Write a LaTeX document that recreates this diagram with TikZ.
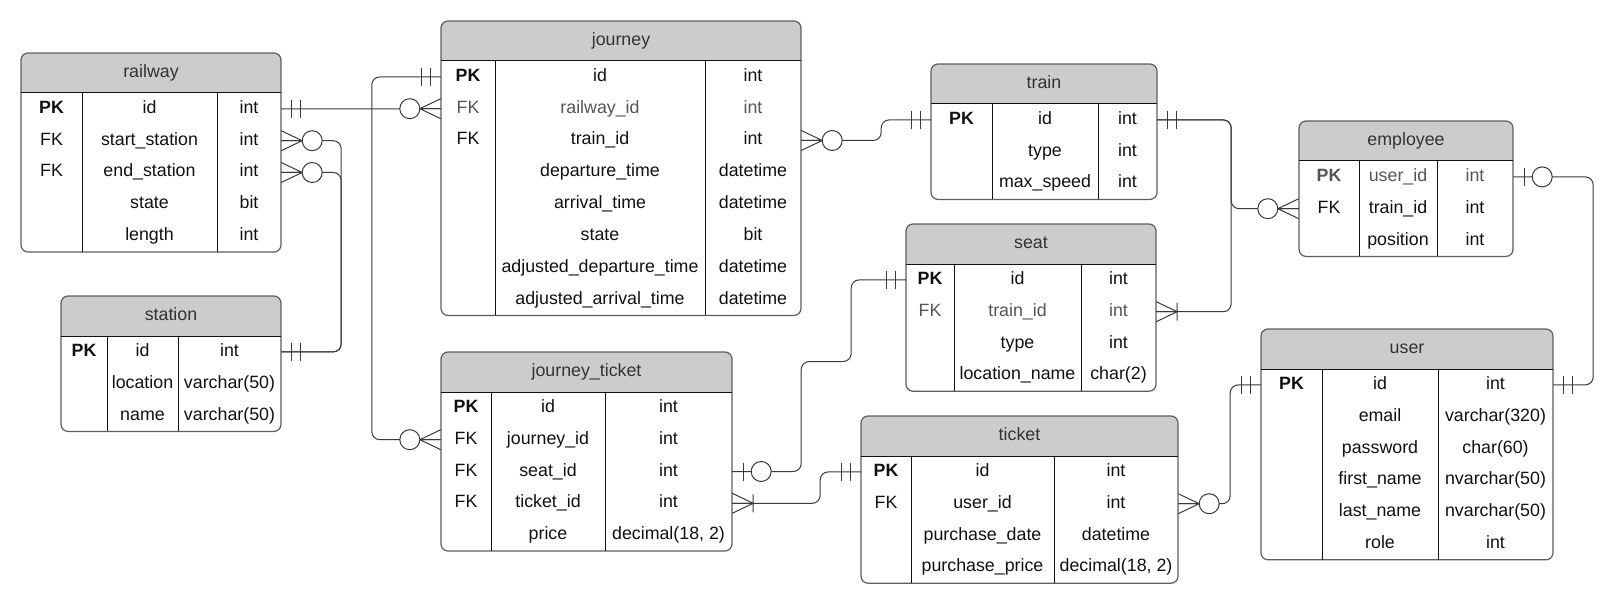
\documentclass[tikz,border=0pt]{standalone}
\usepackage{fontspec}
\setmainfont{Liberation Sans}
\usetikzlibrary{calc}

\definecolor{hdr}{HTML}{CCCCCC}
\definecolor{frm}{HTML}{5E5E5E}
\definecolor{ink}{HTML}{111111}
\definecolor{dim}{HTML}{555555}
\definecolor{lnk}{HTML}{3A3A3A}

\tikzset{
  ertitle/.style={inner sep=0pt, text=black!80, text height=12.8pt, text depth=3.8pt},
  errow/.style={inner sep=0pt, minimum height=31.8pt},
  ercell/.style={inner sep=0pt, text height=12.8pt, text depth=3.8pt},
  erlink/.style={draw=lnk, line width=1pt, rounded corners=8pt},
  ersym/.style={draw=lnk, line width=1pt},
  one/.pic={\draw[ersym] (10,-9) -- (10,9) (19,-9) -- (19,9);},
  zone/.pic={\draw[ersym] (11,-9) -- (11,9);
    \draw[ersym, fill=white] (29,0) circle (10pt);},
  zmany/.pic={\draw[ersym] (0,-10) -- (21,0) -- (0,10) (0,0) -- (21,0);
    \draw[ersym, fill=white] (31,0) circle (10pt);},
  omany/.pic={\draw[ersym] (0,-10) -- (21,0) -- (0,10) (0,0) -- (21,0) (21,-9) -- (21,9);},
}

% #1 name, #2 title, #3-#6 column edges, #7 top, #8 rows, #9 fields
\newcommand{\ertable}[9]{%
  \pgfmathsetmacro{\erbot}{#7+40+#8*31.8}
  \begin{scope}
    \clip[rounded corners=7pt] (#3,#7) rectangle (#6,\erbot);
    \fill[white] (#3,#7) rectangle (#6,\erbot);
    \fill[hdr] (#3,#7) rectangle (#6,#7+40);
  \end{scope}
  \draw[frm, line width=1.2pt, rounded corners=7pt] (#3,#7) rectangle (#6,\erbot);
  \draw[ink, line width=1pt] (#3,#7+40) -- (#6,#7+40)
    (#4,#7+40) -- (#4,\erbot) (#5,#7+40) -- (#5,\erbot);
  \node[ertitle] (#1) at ({(#3+#6)/2},#7+20) {#2};
  \foreach \key/\fld/\typ/\tone [count=\n] in {#9} {
    \pgfmathsetmacro{\rowy}{#7+40+(\n-0.5)*31.8}
    \node[errow, minimum width={(#6-#3)*1pt}] (#1-\n) at ({(#3+#6)/2},\rowy) {};
    \node[ercell, text=\tone] (#1-\n-k) at ({(#3+#4)/2},\rowy) {\key};
    \node[ercell, text=\tone] (#1-\n-f) at ({(#4+#5)/2},\rowy) {\fld};
    \node[ercell, text=\tone] (#1-\n-t) at ({(#5+#6)/2},\rowy) {\typ};
  }
}

\begin{document}
\begin{tikzpicture}[x=1pt, y=-1pt, line join=round,
    font=\fontsize{17.8pt}{21pt}\selectfont]
  \useasboundingbox (0,0) rectangle (1613,604);

  % tables
  \ertable{railway}{railway}{21}{82}{217}{281}{53}{5}{%
    \textbf{PK}/id/int/ink, FK/start\_station/int/ink, FK/end\_station/int/ink,
    /state/bit/ink, /length/int/ink}
  \ertable{station}{station}{61}{107}{178}{281}{296}{3}{%
    \textbf{PK}/id/int/ink, /location/varchar(50)/ink, /name/varchar(50)/ink}
  \ertable{journey}{journey}{441}{495}{705}{801}{21}{8}{%
    \textbf{PK}/id/int/ink, FK/railway\_id/int/dim, FK/train\_id/int/ink,
    /departure\_time/datetime/ink, /arrival\_time/datetime/ink, /state/bit/ink,
    /adjusted\_departure\_time/datetime/ink, /adjusted\_arrival\_time/datetime/ink}
  \ertable{jticket}{journey\_ticket}{441}{491}{605}{732}{352}{5}{%
    \textbf{PK}/id/int/ink, FK/journey\_id/int/ink, FK/seat\_id/int/ink,
    FK/ticket\_id/int/ink, /price/{decimal(18, 2)}/ink}
  \ertable{train}{train}{931}{992}{1098}{1157}{64}{3}{%
    \textbf{PK}/id/int/ink, /type/int/ink, /max\_speed/int/ink}
  \ertable{seat}{seat}{906}{954}{1081}{1156}{224}{4}{%
    \textbf{PK}/id/int/ink, FK/train\_id/int/dim, /type/int/ink,
    /location\_name/char(2)/ink}
  \ertable{ticket}{ticket}{861}{911}{1054}{1178}{416}{4}{%
    \textbf{PK}/id/int/ink, FK/user\_id/int/ink, /purchase\_date/datetime/ink,
    /purchase\_price/{decimal(18, 2)}/ink}
  \ertable{employee}{employee}{1299}{1359}{1437}{1513}{121}{3}{%
    \textbf{PK}/user\_id/int/dim, FK/train\_id/int/ink, /position/int/ink}
  \ertable{user}{user}{1261}{1322}{1438}{1553}{329}{6}{%
    \textbf{PK}/id/int/ink, /email/varchar(320)/ink, /password/char(60)/ink,
    /first\_name/nvarchar(50)/ink, /last\_name/nvarchar(50)/ink, /role/int/ink}

  % links
  \draw[erlink] (railway-1.east) -- (journey-2.west);
  \draw[erlink] (railway-2.east) -- ++(60,0) |- (station-1.east);
  \draw[erlink] (railway-3.east) -- ++(60,0) |- (station-1.east);
  \draw[erlink] (journey-1.west) -- ++(-69,0) |- (jticket-2.west);
  \draw[erlink] (journey-3.east) -- ++(80,0) |- (train-1.west);
  \draw[erlink] (train-1.east) -- ++(74,0) |- (seat-2.east);
  \draw[erlink] (train-1.east) -- ++(74,0) |- (employee-2.west);
  \draw[erlink] (employee-1.east) -- ++(80,0) |- (user-1.east);
  \draw[erlink] (jticket-3.east) -- ++(69,0) -- ++(0,-110) -- ++(50,0) |- (seat-1.west);
  \draw[erlink] (jticket-4.east) -- ++(88,0) |- (ticket-1.west);
  \draw[erlink] (ticket-2.east) -- ++(52,0) |- (user-1.west);

  % ends
  \pic at (railway-1.east) {one};
  \pic[xscale=-1] at (journey-2.west) {zmany};
  \pic at (railway-2.east) {zmany};
  \pic at (railway-3.east) {zmany};
  \pic at (station-1.east) {one};
  \pic[xscale=-1] at (journey-1.west) {one};
  \pic[xscale=-1] at (jticket-2.west) {zmany};
  \pic at (journey-3.east) {zmany};
  \pic[xscale=-1] at (train-1.west) {one};
  \pic at (train-1.east) {one};
  \pic at (seat-2.east) {omany};
  \pic[xscale=-1] at (employee-2.west) {zmany};
  \pic at (employee-1.east) {zone};
  \pic at (user-1.east) {one};
  \pic at (jticket-3.east) {zone};
  \pic[xscale=-1] at (seat-1.west) {one};
  \pic at (jticket-4.east) {omany};
  \pic[xscale=-1] at (ticket-1.west) {one};
  \pic at (ticket-2.east) {zmany};
  \pic[xscale=-1] at (user-1.west) {one};
\end{tikzpicture}
\end{document}
